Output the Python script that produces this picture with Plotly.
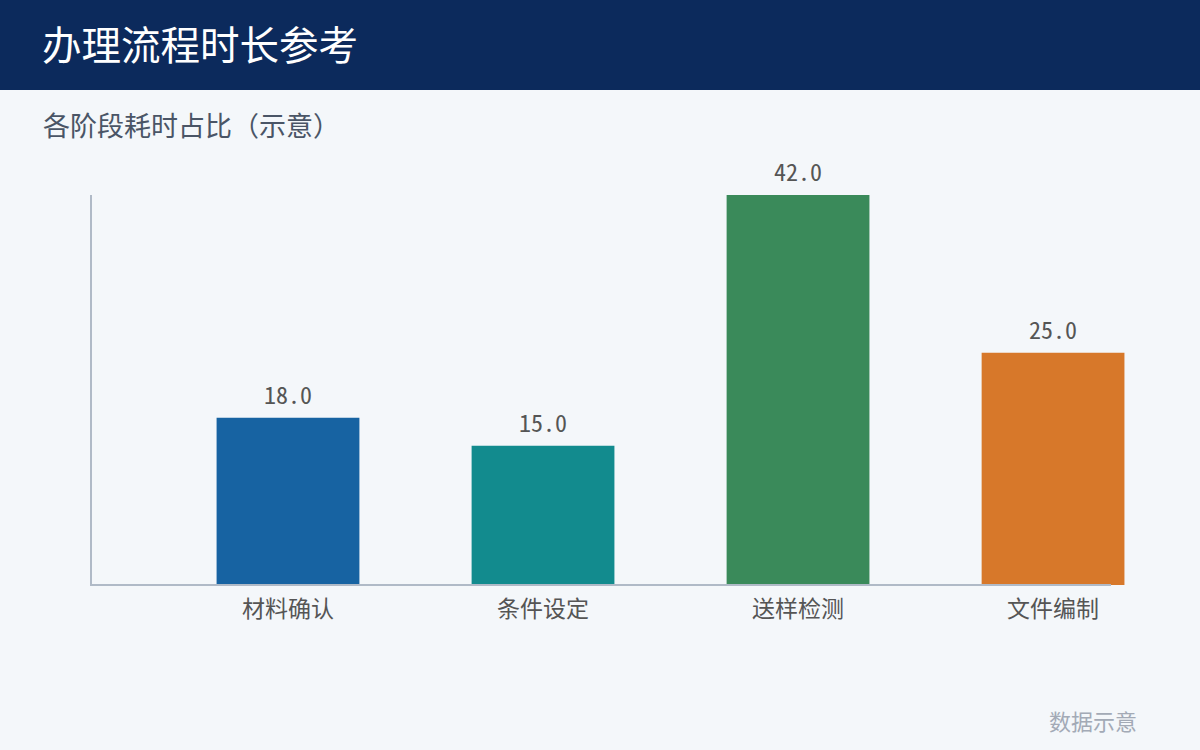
import plotly.graph_objects as go

categories = ["材料确认", "条件设定", "送样检测", "文件编制"]
values = [18.0, 15.0, 42.0, 25.0]
colors = ["#1763A2", "#128B8E", "#3A8A5A", "#D7782A"]

title_text = "办理流程时长参考"
subtitle_text = "各阶段耗时占比（示意）"
footer_text = "数据示意"

W, H = 1200, 750
L, R, T, B = 91, 60, 195, 165
pw = W - L - R
ph = H - T - B

def px_x(x):
    return (x - L) / pw

def px_y(y):
    return (H - B - y) / ph

FONT = "Noto Sans CJK SC"
MONO = "Noto Sans Mono CJK SC, Noto Sans CJK SC"
BG = "#F4F7FA"

xs = list(range(len(categories)))

fig = go.Figure()
fig.add_trace(go.Bar(
    x=xs,
    y=values,
    marker=dict(color=colors, line=dict(width=0)),
    width=0.56,
    hoverinfo="skip",
))
fig.add_trace(go.Scatter(
    x=xs,
    y=values,
    mode="markers+text",
    marker=dict(size=11, color="rgba(0,0,0,0)"),
    text=[f"{v:.1f}" for v in values],
    textposition="top center",
    cliponaxis=False,
    textfont=dict(family=MONO, size=24, color="#555555"),
    hoverinfo="skip",
))

fig.update_layout(
    width=W, height=H,
    margin=dict(l=L, r=R, t=T, b=B),
    paper_bgcolor=BG, plot_bgcolor=BG,
    showlegend=False,
    title=dict(text=title_text, x=42 / W, xref="container", xanchor="left",
               y=1 - 46 / H, yref="container", yanchor="middle",
               font=dict(family=FONT, size=39.5, color="#FFFFFF")),
    xaxis=dict(
        range=[-0.7725, 3.341],
        tickmode="array", tickvals=xs, ticktext=categories,
        tickfont=dict(family=FONT, size=23, color="#555555"),
        ticks="outside", ticklen=3, tickcolor=BG,
        showgrid=False, zeroline=False, showline=False, fixedrange=True,
    ),
    yaxis=dict(
        range=[0, 42], showticklabels=False, showgrid=False, zeroline=False,
        showline=False, ticks="", fixedrange=True,
    ),
    shapes=[
        dict(type="rect", xref="paper", yref="paper", x0=-0.2, x1=1.2,
             y0=px_y(90), y1=1.8, fillcolor="#0C2A5C", line=dict(width=0), layer="below"),
        dict(type="line", xref="paper", yref="paper", x0=px_x(91), x1=px_x(91),
             y0=0, y1=1, line=dict(color="#B0BAC7", width=2)),
        dict(type="line", xref="paper", yref="paper", x0=px_x(90), x1=px_x(1111),
             y0=0, y1=0, line=dict(color="#B0BAC7", width=2)),
    ],
    annotations=[
        dict(text=subtitle_text, xref="paper", yref="paper", x=px_x(41), y=px_y(125),
             xanchor="left", yanchor="middle", showarrow=False,
             font=dict(family=FONT, size=27, color="#4A5566")),
        dict(text=footer_text, xref="paper", yref="paper", x=px_x(1139), y=px_y(720),
             xanchor="right", yanchor="middle", showarrow=False,
             font=dict(family=FONT, size=22, color="#A3AAB6")),
    ],
)

fig.write_html(
    "out.html",
    config={"displayModeBar": False},
    post_script="document.body.style.margin='0';document.body.style.overflow='hidden';",
)
